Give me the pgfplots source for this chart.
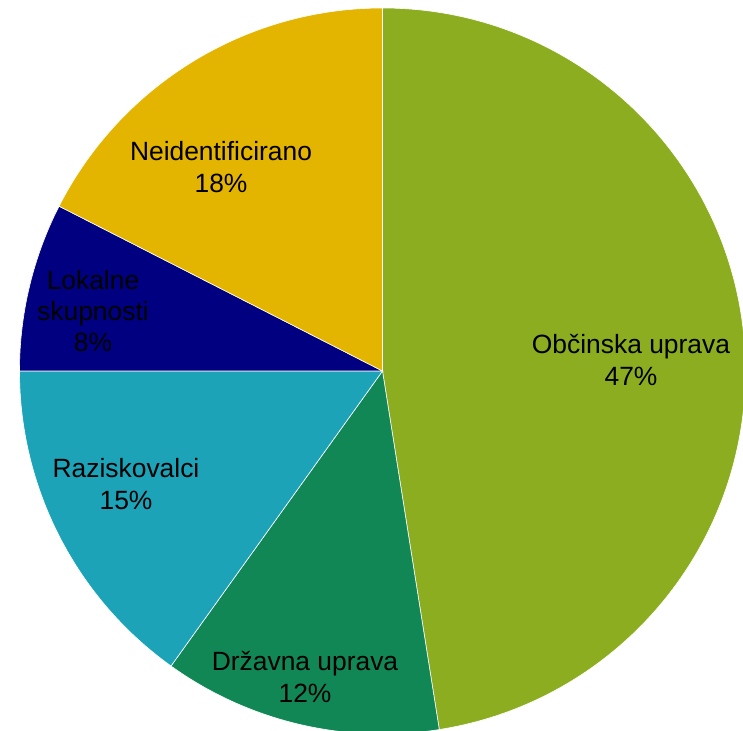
\documentclass[border=0pt]{standalone}
\usepackage{pgfplots}
\pgfplotsset{compat=1.18}
\usepackage{pgfplotstable}
\usepackage{fontspec}
\setmainfont{Liberation Sans}
\definecolor{cObc}{HTML}{8BAD1F}
\definecolor{cDrz}{HTML}{118756}
\definecolor{cRaz}{HTML}{1CA3B8}
\definecolor{cLok}{HTML}{000080}
\definecolor{cNei}{HTML}{E3B400}
\pgfplotstableread[col sep=comma]{
name,value
Občinska uprava,47.5
Državna uprava,12.4
Raziskovalci,15.1
Lokalne skupnosti,7.5
Neidentificirano,17.5
}\piedata
\begin{document}
\begin{tikzpicture}
\useasboundingbox (0,0) rectangle (371.5pt,365pt);
\clip (0,0) rectangle (371.5pt,365pt);
\pgfmathsetmacro\angA{90}
\pgfplotstablegetelem{0}{value}\of\piedata\pgfmathsetmacro\angB{\angA-3.6*\pgfplotsretval}
\pgfplotstablegetelem{1}{value}\of\piedata\pgfmathsetmacro\angC{\angB-3.6*\pgfplotsretval}
\pgfplotstablegetelem{2}{value}\of\piedata\pgfmathsetmacro\angD{\angC-3.6*\pgfplotsretval}
\pgfplotstablegetelem{3}{value}\of\piedata\pgfmathsetmacro\angE{\angD-3.6*\pgfplotsretval}
\pgfplotstablegetelem{4}{value}\of\piedata\pgfmathsetmacro\angF{\angE-3.6*\pgfplotsretval}
\begin{axis}[
  at={(0,0)}, anchor=south west,
  width=371.5pt, height=365pt, scale only axis,
  xmin=-382.5, xmax=360.5, ymin=-359, ymax=371,
  hide axis, clip=true,
]
\def\R{181.5pt}
\fill[cObc, draw=white, line width=0.3pt] (axis cs:0,0) -- +(\angA:\R) arc[start angle=\angA, end angle=\angB, radius=\R] -- cycle;
\fill[cDrz, draw=white, line width=0.3pt] (axis cs:0,0) -- +(\angB:\R) arc[start angle=\angB, end angle=\angC, radius=\R] -- cycle;
\fill[cRaz, draw=white, line width=0.3pt] (axis cs:0,0) -- +(\angC:\R) arc[start angle=\angC, end angle=\angD, radius=\R] -- cycle;
\fill[cLok, draw=white, line width=0.3pt] (axis cs:0,0) -- +(\angD:\R) arc[start angle=\angD, end angle=\angE, radius=\R] -- cycle;
\fill[cNei, draw=white, line width=0.3pt] (axis cs:0,0) -- +(\angE:\R) arc[start angle=\angE, end angle=\angF, radius=\R] -- cycle;
\tikzset{lab/.style={align=center, inner sep=0pt, font=\fontsize{13.2}{15.6}\selectfont, text=black}}
\node[lab] at (axis cs:248.5,11) {Občinska uprava\\47\%};
\node[lab] at (axis cs:-77.5,-306) {Državna uprava\\12\%};
\node[lab] at (axis cs:-256.5,-113) {Raziskovalci\\15\%};
\node[lab] at (axis cs:-289.5,60) {Lokalne\\skupnosti\\8\%};
\node[lab] at (axis cs:-161.5,204) {Neidentificirano\\18\%};
\end{axis}
\end{tikzpicture}
\end{document}
